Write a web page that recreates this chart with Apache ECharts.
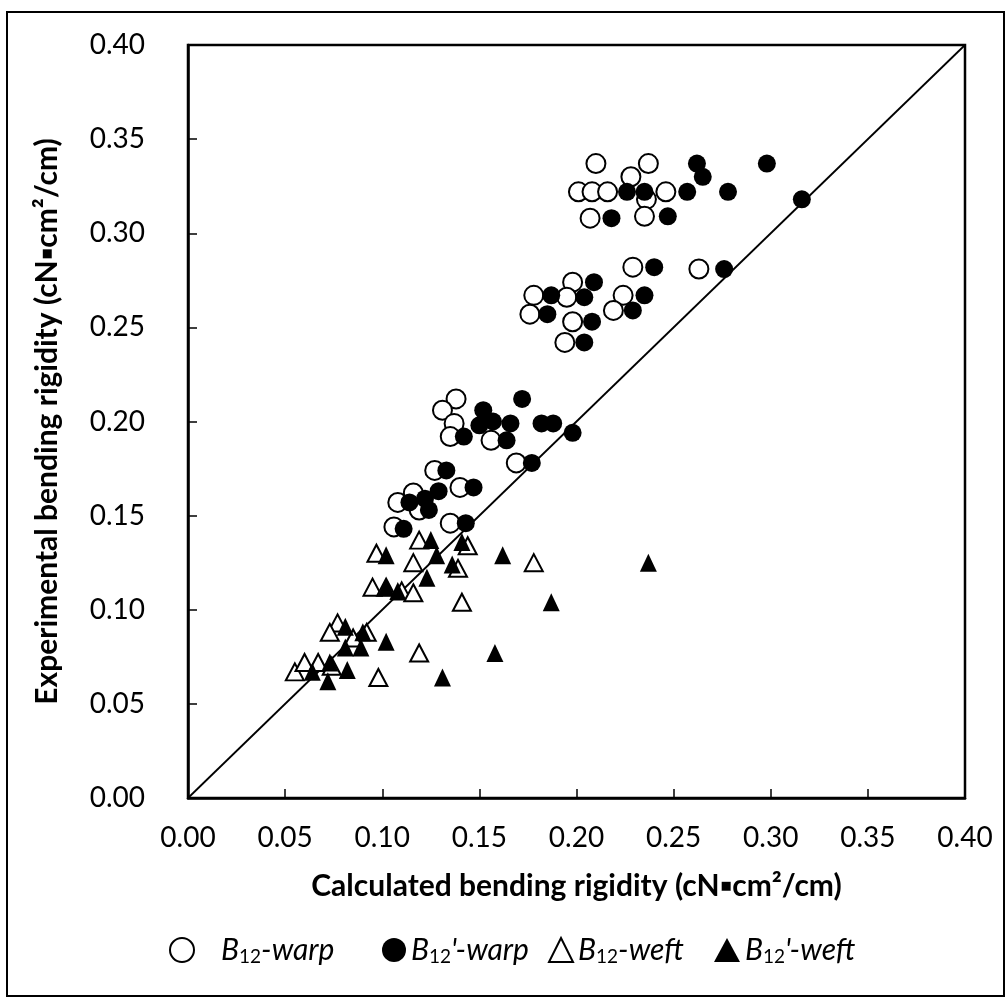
<!DOCTYPE html>
<html>
<head>
<meta charset="utf-8">
<script src="https://cdn.jsdelivr.net/npm/echarts@6/dist/echarts.min.js"></script>
<style>
html,body{margin:0;padding:0;background:#fff;}
#chart{width:1007px;height:999px;}
</style>
</head>
<body>
<div id="chart"></div>
<script>
// ---- data (x = calculated, y = experimental) ----
const warpB12 = [
  [0.210,0.337],[0.237,0.337],[0.228,0.330],[0.201,0.322],[0.208,0.322],[0.216,0.322],[0.246,0.322],[0.236,0.318],[0.207,0.308],[0.235,0.309],
  [0.229,0.282],[0.263,0.281],[0.198,0.274],[0.178,0.267],[0.195,0.266],[0.224,0.267],[0.176,0.257],[0.198,0.253],[0.219,0.259],[0.194,0.242],
  [0.138,0.212],[0.131,0.206],[0.137,0.199],[0.135,0.192],[0.156,0.190],[0.169,0.178],
  [0.127,0.174],[0.108,0.157],[0.116,0.162],[0.140,0.165],[0.119,0.153],[0.106,0.144],[0.135,0.146]
];
const warpB12p = [
  [0.226,0.322],[0.235,0.322],[0.257,0.322],[0.262,0.337],[0.265,0.330],[0.278,0.322],[0.298,0.337],[0.316,0.318],[0.218,0.308],[0.247,0.309],
  [0.240,0.282],[0.276,0.281],[0.209,0.274],[0.187,0.267],[0.204,0.266],[0.235,0.267],[0.185,0.257],[0.208,0.253],[0.229,0.259],[0.204,0.242],
  [0.172,0.212],[0.152,0.206],[0.150,0.198],[0.157,0.200],[0.166,0.199],[0.182,0.199],[0.188,0.199],[0.142,0.192],[0.164,0.190],[0.198,0.194],[0.177,0.178],
  [0.133,0.174],[0.114,0.157],[0.122,0.159],[0.129,0.163],[0.147,0.165],[0.124,0.153],[0.111,0.143],[0.143,0.146]
];
const weftB12 = [
  [0.119,0.137],[0.097,0.130],[0.116,0.125],[0.139,0.122],[0.144,0.134],[0.095,0.112],[0.102,0.112],[0.110,0.110],[0.116,0.109],[0.141,0.104],
  [0.077,0.093],[0.073,0.088],[0.092,0.088],[0.085,0.085],[0.119,0.077],[0.055,0.067],[0.060,0.072],[0.067,0.072],[0.074,0.070],[0.098,0.064],
  [0.178,0.125]
];
const weftB12p = [
  [0.125,0.137],[0.102,0.129],[0.128,0.129],[0.141,0.136],[0.136,0.124],[0.123,0.117],[0.108,0.110],[0.102,0.112],[0.081,0.091],[0.090,0.088],
  [0.102,0.083],[0.081,0.080],[0.089,0.080],[0.064,0.067],[0.072,0.062],[0.082,0.068],[0.073,0.072],[0.131,0.064],[0.162,0.129],[0.237,0.125],
  [0.187,0.104],[0.158,0.077]
];
const identityLine = [[0, 0], [0.40, 0.40]];
const axisTicks = ['0.00','0.05','0.10','0.15','0.20','0.25','0.30','0.35','0.40'];
const xTitle = 'Calculated bending rigidity (cN\u25AAcm\u00B2/cm)';
const yTitle = 'Experimental bending rigidity (cN\u25AAcm\u00B2/cm)';
const seriesNames = ['B12-warp', "B12'-warp", 'B12-weft', "B12'-weft"];

const chart = echarts.init(document.getElementById('chart'), null, {renderer: 'canvas'});
const FONT = 'Lato';
const axisCommon = {
  min: 0, max: 0.40, interval: 0.05,
  axisLine: {show: true, onZero: false, lineStyle: {color: '#000', width: 2.5}},
  axisTick: {show: true, inside: true, length: 9, lineStyle: {color: '#000', width: 1.5}},
  splitLine: {show: false},
  axisLabel: {color: '#000', fontSize: 28, fontFamily: FONT, formatter: v => axisTicks[Math.round(v / 0.05)]},
  nameLocation: 'middle',
  nameTextStyle: {color: '#000', fontSize: 30, fontWeight: 'bold', fontFamily: FONT}
};
const legendRich = {
  i: {fontStyle: 'italic', fontSize: 30, fontFamily: FONT, color: '#000'},
  ip: {fontStyle: 'italic', fontSize: 30, fontFamily: FONT, color: '#000', padding: [0, 0, 0, 22]},
  s: {fontSize: 19, fontFamily: FONT, color: '#000', verticalAlign: 'bottom', padding: [13, 0, 0, 0]}
};
function legendFmt(name) {
  const prime = name.indexOf("'") >= 0 ? "'" : '';
  const suffix = name.split('-')[1];
  const first = name === seriesNames[0] ? 'ip' : 'i';
  return '{' + first + '|B}{s|12}{i|' + prime + '-' + suffix + '}';
}
const legendLefts = [169, 382, 548, 714];
const legends = seriesNames.map((n, k) => ({
  show: true, data: [n], left: legendLefts[k], top: 935, padding: 0,
  itemWidth: k === 3 ? 26 : 24, itemHeight: 24, itemGap: 0,
  formatter: legendFmt, textStyle: {rich: legendRich, fontSize: 30}, selectedMode: false
}));
const openStyle = {color: '#fff', borderColor: '#000', borderWidth: 2, opacity: 1};
const fillStyle = {color: '#000', borderWidth: 0, opacity: 1};

chart.setOption({
  animation: false,
  backgroundColor: '#fff',
  grid: {left: 188, top: 45, width: 777, height: 753, show: true, borderColor: '#000', borderWidth: 2.5, backgroundColor: 'transparent'},
  xAxis: Object.assign({}, axisCommon, {type: 'value', name: xTitle, nameGap: 73,
    axisLabel: Object.assign({}, axisCommon.axisLabel, {margin: 26})}),
  yAxis: Object.assign({}, axisCommon, {type: 'value', name: yTitle, nameGap: 126,
    axisLabel: Object.assign({}, axisCommon.axisLabel, {margin: 43})}),
  legend: legends,
  graphic: [{type: 'rect', shape: {x: 7, y: 12, width: 997, height: 984}, style: {fill: 'none', stroke: '#000', lineWidth: 2}, silent: true}],
  series: [
    {type: 'line', data: identityLine, symbol: 'none', lineStyle: {color: '#000', width: 1.8}, z: 1, silent: true},
    {name: seriesNames[0], type: 'scatter', data: warpB12, symbol: 'circle', symbolSize: 19, itemStyle: openStyle, z: 2},
    {name: seriesNames[1], type: 'scatter', data: warpB12p, symbol: 'circle', symbolSize: 18, itemStyle: fillStyle, z: 3},
    {name: seriesNames[2], type: 'scatter', data: weftB12, symbol: 'triangle', symbolSize: [18, 17], itemStyle: openStyle, z: 4},
    {name: seriesNames[3], type: 'scatter', data: weftB12p, symbol: 'triangle', symbolSize: [17, 18], itemStyle: fillStyle, z: 5}
  ]
});
</script>
</body>
</html>
